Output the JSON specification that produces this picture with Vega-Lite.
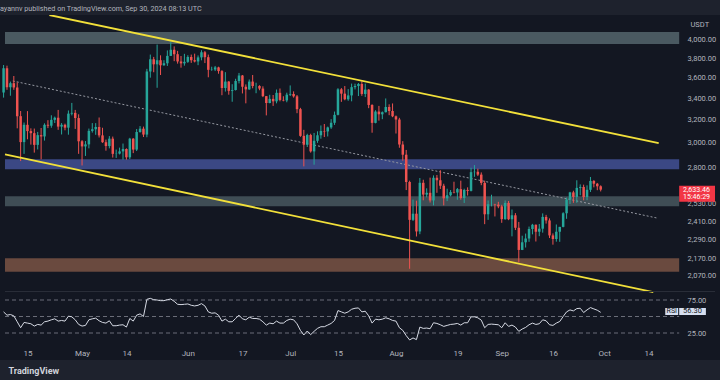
{
"$schema":"https://vega.github.io/schema/vega-lite/v6.json",
"width":720,"height":345,
"autosize":{"type":"none"},
"padding":{"top":15,"left":0,"right":0,"bottom":20},
"background":"#1e222d",
"config":{"view":{"fill":"#131722","stroke":null},"font":"Roboto"},
"title":{"text":"ayannv published on TradingView.com, Sep 30, 2024 08:13 UTC","anchor":"start","frame":"group","fontSize":7.2,"fontWeight":"normal","color":"#b2b5be","offset":3,"font":"Roboto"},
"datasets":{
"k":[
{"d":"2024-04-08","o":3454,"h":3730,"l":3405,"c":3695,"r":57},
{"d":"2024-04-09","o":3695,"h":3723,"l":3480,"c":3505,"r":52},
{"d":"2024-04-10","o":3505,"h":3561,"l":3423,"c":3545,"r":53},
{"d":"2024-04-11","o":3545,"h":3617,"l":3480,"c":3503,"r":51},
{"d":"2024-04-12","o":3503,"h":3553,"l":3125,"c":3233,"r":42},
{"d":"2024-04-13","o":3233,"h":3280,"l":2852,"c":3007,"r":33},
{"d":"2024-04-14","o":3007,"h":3176,"l":2910,"c":3156,"r":41},
{"d":"2024-04-15","o":3156,"h":3279,"l":3031,"c":3101,"r":40},
{"d":"2024-04-16","o":3101,"h":3125,"l":2986,"c":3083,"r":39},
{"d":"2024-04-17","o":3083,"h":3123,"l":2920,"c":2984,"r":35.5},
{"d":"2024-04-18","o":2984,"h":3094,"l":2946,"c":3066,"r":38},
{"d":"2024-04-19","o":3066,"h":3128,"l":2866,"c":3055,"r":37},
{"d":"2024-04-20","o":3055,"h":3169,"l":3020,"c":3156,"r":42},
{"d":"2024-04-21","o":3156,"h":3197,"l":3127,"c":3148,"r":43},
{"d":"2024-04-22","o":3148,"h":3241,"l":3130,"c":3200,"r":45},
{"d":"2024-04-23","o":3200,"h":3229,"l":3172,"c":3219,"r":46.5},
{"d":"2024-04-24","o":3219,"h":3290,"l":3112,"c":3140,"r":43},
{"d":"2024-04-25","o":3140,"h":3171,"l":3072,"c":3156,"r":44},
{"d":"2024-04-26","o":3156,"h":3166,"l":3108,"c":3131,"r":43},
{"d":"2024-04-27","o":3131,"h":3285,"l":3070,"c":3256,"r":50.5},
{"d":"2024-04-28","o":3256,"h":3355,"l":3240,"c":3263,"r":49.5},
{"d":"2024-04-29","o":3263,"h":3290,"l":3120,"c":3216,"r":45},
{"d":"2024-04-30","o":3216,"h":3250,"l":2910,"c":3014,"r":38},
{"d":"2024-05-01","o":3014,"h":3024,"l":2817,"c":2971,"r":35.5},
{"d":"2024-05-02","o":2971,"h":3016,"l":2893,"c":2988,"r":36.5},
{"d":"2024-05-03","o":2988,"h":3123,"l":2955,"c":3103,"r":45},
{"d":"2024-05-04","o":3103,"h":3171,"l":3088,"c":3117,"r":46.5},
{"d":"2024-05-05","o":3117,"h":3171,"l":3069,"c":3137,"r":47.5},
{"d":"2024-05-06","o":3137,"h":3221,"l":3046,"c":3064,"r":43.5},
{"d":"2024-05-07","o":3064,"h":3130,"l":3001,"c":3006,"r":41},
{"d":"2024-05-08","o":3006,"h":3028,"l":2936,"c":2974,"r":40},
{"d":"2024-05-09","o":2974,"h":3058,"l":2955,"c":3036,"r":43.5},
{"d":"2024-05-10","o":3036,"h":3054,"l":2880,"c":2910,"r":36},
{"d":"2024-05-11","o":2910,"h":2945,"l":2877,"c":2912,"r":36},
{"d":"2024-05-12","o":2912,"h":2961,"l":2905,"c":2930,"r":37},
{"d":"2024-05-13","o":2930,"h":2995,"l":2863,"c":2950,"r":37.5},
{"d":"2024-05-14","o":2950,"h":2955,"l":2863,"c":2882,"r":34},
{"d":"2024-05-15","o":2882,"h":3043,"l":2868,"c":3036,"r":47},
{"d":"2024-05-16","o":3036,"h":3041,"l":2916,"c":2945,"r":43},
{"d":"2024-05-17","o":2945,"h":3119,"l":2933,"c":3093,"r":52},
{"d":"2024-05-18","o":3093,"h":3145,"l":3087,"c":3122,"r":54},
{"d":"2024-05-19","o":3122,"h":3140,"l":3050,"c":3071,"r":50},
{"d":"2024-05-20","o":3071,"h":3690,"l":3048,"c":3663,"r":76},
{"d":"2024-05-21","o":3663,"h":3840,"l":3600,"c":3790,"r":77.5},
{"d":"2024-05-22","o":3790,"h":3815,"l":3655,"c":3737,"r":75.5},
{"d":"2024-05-23","o":3737,"h":3949,"l":3500,"c":3780,"r":75},
{"d":"2024-05-24","o":3780,"h":3832,"l":3627,"c":3727,"r":74},
{"d":"2024-05-25","o":3727,"h":3780,"l":3722,"c":3748,"r":74},
{"d":"2024-05-26","o":3748,"h":3885,"l":3720,"c":3826,"r":75.5},
{"d":"2024-05-27","o":3826,"h":3976,"l":3826,"c":3892,"r":76.5},
{"d":"2024-05-28","o":3892,"h":3929,"l":3770,"c":3844,"r":73},
{"d":"2024-05-29","o":3844,"h":3880,"l":3744,"c":3767,"r":68.5},
{"d":"2024-05-30","o":3767,"h":3825,"l":3702,"c":3747,"r":68},
{"d":"2024-05-31","o":3747,"h":3848,"l":3723,"c":3763,"r":68.5},
{"d":"2024-06-01","o":3763,"h":3833,"l":3752,"c":3814,"r":69},
{"d":"2024-06-02","o":3814,"h":3840,"l":3752,"c":3780,"r":67},
{"d":"2024-06-03","o":3780,"h":3850,"l":3757,"c":3767,"r":66},
{"d":"2024-06-04","o":3767,"h":3831,"l":3728,"c":3810,"r":67},
{"d":"2024-06-05","o":3810,"h":3887,"l":3779,"c":3865,"r":69.5},
{"d":"2024-06-06","o":3865,"h":3878,"l":3750,"c":3812,"r":66},
{"d":"2024-06-07","o":3812,"h":3840,"l":3604,"c":3680,"r":57},
{"d":"2024-06-08","o":3680,"h":3712,"l":3670,"c":3683,"r":55},
{"d":"2024-06-09","o":3683,"h":3720,"l":3667,"c":3705,"r":55.5},
{"d":"2024-06-10","o":3705,"h":3712,"l":3640,"c":3667,"r":52},
{"d":"2024-06-11","o":3667,"h":3677,"l":3428,"c":3498,"r":43},
{"d":"2024-06-12","o":3498,"h":3656,"l":3463,"c":3561,"r":46},
{"d":"2024-06-13","o":3561,"h":3566,"l":3433,"c":3470,"r":42},
{"d":"2024-06-14","o":3470,"h":3535,"l":3366,"c":3478,"r":42},
{"d":"2024-06-15","o":3478,"h":3589,"l":3473,"c":3567,"r":47},
{"d":"2024-06-16","o":3567,"h":3648,"l":3543,"c":3622,"r":52},
{"d":"2024-06-17","o":3622,"h":3627,"l":3445,"c":3510,"r":46.5},
{"d":"2024-06-18","o":3510,"h":3533,"l":3351,"c":3484,"r":45},
{"d":"2024-06-19","o":3484,"h":3582,"l":3480,"c":3561,"r":49},
{"d":"2024-06-20","o":3561,"h":3627,"l":3495,"c":3517,"r":47},
{"d":"2024-06-21","o":3517,"h":3550,"l":3447,"c":3518,"r":47},
{"d":"2024-06-22","o":3518,"h":3525,"l":3476,"c":3492,"r":46},
{"d":"2024-06-23","o":3492,"h":3514,"l":3410,"c":3419,"r":42},
{"d":"2024-06-24","o":3419,"h":3420,"l":3240,"c":3354,"r":37},
{"d":"2024-06-25","o":3354,"h":3432,"l":3351,"c":3393,"r":40},
{"d":"2024-06-26","o":3393,"h":3430,"l":3327,"c":3370,"r":39},
{"d":"2024-06-27","o":3370,"h":3483,"l":3351,"c":3451,"r":43},
{"d":"2024-06-28","o":3451,"h":3493,"l":3370,"c":3383,"r":40},
{"d":"2024-06-29","o":3383,"h":3418,"l":3370,"c":3378,"r":40},
{"d":"2024-06-30","o":3378,"h":3452,"l":3361,"c":3433,"r":44},
{"d":"2024-07-01","o":3433,"h":3523,"l":3420,"c":3440,"r":46},
{"d":"2024-07-02","o":3440,"h":3465,"l":3405,"c":3417,"r":45},
{"d":"2024-07-03","o":3417,"h":3430,"l":3260,"c":3297,"r":39},
{"d":"2024-07-04","o":3297,"h":3309,"l":3052,"c":3060,"r":29},
{"d":"2024-07-05","o":3060,"h":3112,"l":2810,"c":2985,"r":22},
{"d":"2024-07-06","o":2985,"h":3078,"l":2966,"c":3067,"r":28},
{"d":"2024-07-07","o":3067,"h":3078,"l":2920,"c":2930,"r":22.5},
{"d":"2024-07-08","o":2930,"h":3085,"l":2823,"c":3018,"r":27.5},
{"d":"2024-07-09","o":3018,"h":3099,"l":3001,"c":3065,"r":32},
{"d":"2024-07-10","o":3065,"h":3150,"l":3036,"c":3102,"r":34.5},
{"d":"2024-07-11","o":3102,"h":3163,"l":3050,"c":3098,"r":34.5},
{"d":"2024-07-12","o":3098,"h":3140,"l":3055,"c":3133,"r":37},
{"d":"2024-07-13","o":3133,"h":3206,"l":3120,"c":3174,"r":39.5},
{"d":"2024-07-14","o":3174,"h":3275,"l":3155,"c":3245,"r":44},
{"d":"2024-07-15","o":3245,"h":3496,"l":3240,"c":3485,"r":59},
{"d":"2024-07-16","o":3485,"h":3497,"l":3365,"c":3443,"r":57},
{"d":"2024-07-17","o":3443,"h":3517,"l":3380,"c":3389,"r":55},
{"d":"2024-07-18","o":3389,"h":3487,"l":3375,"c":3426,"r":57},
{"d":"2024-07-19","o":3426,"h":3541,"l":3370,"c":3506,"r":61},
{"d":"2024-07-20","o":3506,"h":3540,"l":3484,"c":3517,"r":62.5},
{"d":"2024-07-21","o":3517,"h":3547,"l":3420,"c":3537,"r":63},
{"d":"2024-07-22","o":3537,"h":3563,"l":3422,"c":3440,"r":57},
{"d":"2024-07-23","o":3440,"h":3541,"l":3410,"c":3482,"r":58},
{"d":"2024-07-24","o":3482,"h":3487,"l":3306,"c":3336,"r":51},
{"d":"2024-07-25","o":3336,"h":3342,"l":3087,"c":3173,"r":40},
{"d":"2024-07-26","o":3173,"h":3287,"l":3169,"c":3275,"r":46},
{"d":"2024-07-27","o":3275,"h":3327,"l":3193,"c":3250,"r":45},
{"d":"2024-07-28","o":3250,"h":3276,"l":3206,"c":3269,"r":46},
{"d":"2024-07-29","o":3269,"h":3397,"l":3267,"c":3317,"r":48},
{"d":"2024-07-30","o":3317,"h":3342,"l":3242,"c":3280,"r":46.5},
{"d":"2024-07-31","o":3280,"h":3350,"l":3224,"c":3232,"r":44},
{"d":"2024-08-01","o":3232,"h":3239,"l":3080,"c":3203,"r":43},
{"d":"2024-08-02","o":3203,"h":3218,"l":2960,"c":2987,"r":33},
{"d":"2024-08-03","o":2987,"h":3015,"l":2855,"c":2903,"r":29},
{"d":"2024-08-04","o":2903,"h":2942,"l":2630,"c":2690,"r":21},
{"d":"2024-08-05","o":2690,"h":2700,"l":2111,"c":2420,"r":14.5},
{"d":"2024-08-06","o":2420,"h":2561,"l":2412,"c":2462,"r":17.5},
{"d":"2024-08-07","o":2462,"h":2553,"l":2310,"c":2343,"r":15},
{"d":"2024-08-08","o":2343,"h":2720,"l":2325,"c":2684,"r":34},
{"d":"2024-08-09","o":2684,"h":2707,"l":2556,"c":2597,"r":32},
{"d":"2024-08-10","o":2597,"h":2643,"l":2577,"c":2610,"r":32.5},
{"d":"2024-08-11","o":2610,"h":2723,"l":2540,"c":2555,"r":31.5},
{"d":"2024-08-12","o":2555,"h":2740,"l":2520,"c":2722,"r":40.5},
{"d":"2024-08-13","o":2722,"h":2743,"l":2610,"c":2703,"r":39.5},
{"d":"2024-08-14","o":2703,"h":2780,"l":2638,"c":2662,"r":37.5},
{"d":"2024-08-15","o":2662,"h":2677,"l":2520,"c":2570,"r":35},
{"d":"2024-08-16","o":2570,"h":2640,"l":2550,"c":2592,"r":36.5},
{"d":"2024-08-17","o":2592,"h":2630,"l":2584,"c":2615,"r":38},
{"d":"2024-08-18","o":2615,"h":2692,"l":2606,"c":2612,"r":38.5},
{"d":"2024-08-19","o":2612,"h":2645,"l":2560,"c":2637,"r":39.5},
{"d":"2024-08-20","o":2637,"h":2700,"l":2560,"c":2572,"r":37},
{"d":"2024-08-21","o":2572,"h":2640,"l":2537,"c":2631,"r":40.5},
{"d":"2024-08-22","o":2631,"h":2650,"l":2590,"c":2624,"r":40.5},
{"d":"2024-08-23","o":2624,"h":2799,"l":2620,"c":2765,"r":49.5},
{"d":"2024-08-24","o":2765,"h":2820,"l":2729,"c":2768,"r":49.5},
{"d":"2024-08-25","o":2768,"h":2792,"l":2735,"c":2746,"r":48},
{"d":"2024-08-26","o":2746,"h":2763,"l":2666,"c":2683,"r":44.5},
{"d":"2024-08-27","o":2683,"h":2700,"l":2391,"c":2458,"r":33},
{"d":"2024-08-28","o":2458,"h":2555,"l":2420,"c":2528,"r":38},
{"d":"2024-08-29","o":2528,"h":2596,"l":2513,"c":2528,"r":38.5},
{"d":"2024-08-30","o":2528,"h":2531,"l":2443,"c":2525,"r":38},
{"d":"2024-08-31","o":2525,"h":2545,"l":2500,"c":2513,"r":37.5},
{"d":"2024-09-01","o":2513,"h":2524,"l":2400,"c":2425,"r":33},
{"d":"2024-09-02","o":2425,"h":2555,"l":2420,"c":2537,"r":40.5},
{"d":"2024-09-03","o":2537,"h":2551,"l":2418,"c":2424,"r":35},
{"d":"2024-09-04","o":2424,"h":2491,"l":2311,"c":2451,"r":37},
{"d":"2024-09-05","o":2451,"h":2466,"l":2352,"c":2367,"r":34},
{"d":"2024-09-06","o":2367,"h":2406,"l":2150,"c":2225,"r":27.5},
{"d":"2024-09-07","o":2225,"h":2315,"l":2224,"c":2273,"r":31},
{"d":"2024-09-08","o":2273,"h":2329,"l":2240,"c":2297,"r":33.5},
{"d":"2024-09-09","o":2297,"h":2375,"l":2276,"c":2359,"r":37.5},
{"d":"2024-09-10","o":2359,"h":2393,"l":2324,"c":2387,"r":40},
{"d":"2024-09-11","o":2387,"h":2389,"l":2278,"c":2341,"r":38},
{"d":"2024-09-12","o":2341,"h":2392,"l":2312,"c":2361,"r":39},
{"d":"2024-09-13","o":2361,"h":2464,"l":2335,"c":2440,"r":45},
{"d":"2024-09-14","o":2440,"h":2454,"l":2395,"c":2416,"r":43.5},
{"d":"2024-09-15","o":2416,"h":2430,"l":2300,"c":2317,"r":37.5},
{"d":"2024-09-16","o":2317,"h":2330,"l":2258,"c":2294,"r":36.5},
{"d":"2024-09-17","o":2294,"h":2389,"l":2277,"c":2341,"r":40},
{"d":"2024-09-18","o":2341,"h":2373,"l":2276,"c":2373,"r":42.5},
{"d":"2024-09-19","o":2373,"h":2472,"l":2370,"c":2465,"r":50},
{"d":"2024-09-20","o":2465,"h":2575,"l":2427,"c":2561,"r":57},
{"d":"2024-09-21","o":2561,"h":2617,"l":2530,"c":2613,"r":60},
{"d":"2024-09-22","o":2613,"h":2625,"l":2538,"c":2580,"r":58.5},
{"d":"2024-09-23","o":2580,"h":2703,"l":2538,"c":2646,"r":62},
{"d":"2024-09-24","o":2646,"h":2672,"l":2592,"c":2653,"r":62.5},
{"d":"2024-09-25","o":2653,"h":2670,"l":2556,"c":2579,"r":56},
{"d":"2024-09-26","o":2579,"h":2665,"l":2557,"c":2632,"r":60},
{"d":"2024-09-27","o":2632,"h":2728,"l":2616,"c":2698,"r":63.5},
{"d":"2024-09-28","o":2698,"h":2704,"l":2650,"c":2677,"r":61.5},
{"d":"2024-09-29","o":2677,"h":2683,"l":2629,"c":2658,"r":59.5},
{"d":"2024-09-30","o":2658,"h":2665,"l":2620,"c":2633,"r":56.3}
],
"lines":[
{"g":"upper","t":"2024-04-21T10:00:00Z","p":4289},
{"g":"upper","t":"2024-10-17T00:00:00Z","p":2998},
{"g":"lower","t":"2024-04-08T10:00:00Z","p":2906},
{"g":"lower","t":"2024-10-15T10:00:00Z","p":1977}
],
"mid":[
{"t":"2024-04-10T17:00:00Z","p":3567},
{"t":"2024-10-16T19:00:00Z","p":2431}
],
"bands":[
{"k":"a","lo":3955,"hi":4090},
{"k":"b","lo":2787,"hi":2866},
{"k":"c","lo":2514,"hi":2585},
{"k":"d","lo":2094,"hi":2174}
],
"lv":[{"v":25},{"v":50},{"v":75}],
"one":[{}]
},
"layer":[
{"layer":[
{"data":{"name":"bands"},"mark":{"type":"rect","clip":true},
 "encoding":{
  "x":{"datum":{"year":2024,"month":4,"date":8,"hours":10,"utc":true},"type":"temporal","scale":{"type":"utc","domain":[{"year":2024,"month":4,"date":8,"hours":10,"utc":true},{"year":2024,"month":11,"date":2,"hours":12,"utc":true}]}},
  "x2":{"datum":{"year":2024,"month":10,"date":23,"utc":true}},
  "y":{"field":"lo","type":"quantitative","scale":{"type":"log","domain":[1636,4289],"nice":false},
   "axis":{"orient":"right","offset":-37,"values":[4000,3800,3600,3400,3200,3000,2800,2530,2410,2290,2170,2070],"format":",.2f","domain":false,"ticks":false,"grid":false,"labelPadding":4,"labelFontSize":7.5,"labelColor":"#b2b5be","labelOverlap":false,"labelFlush":false,"title":"USDT","titleAngle":0,"titleX":7,"titleY":9,"titleAlign":"left","titleBaseline":"middle","titleFontSize":7.5,"titleFontWeight":"normal","titleColor":"#b2b5be"}},
  "y2":{"field":"hi"},
  "color":{"field":"k","type":"nominal","scale":{"domain":["a","b","c","d"],"range":["#4a5961","#3b4884","#3f4d55","#6a4a3f"]},"legend":null}
 }},
{"data":{"name":"mid"},"mark":{"type":"line","clip":true,"color":"#9598a1","strokeWidth":1,"strokeDash":[2,2]},
 "encoding":{
  "x":{"field":"t","type":"temporal","scale":{"type":"utc","domain":[{"year":2024,"month":4,"date":8,"hours":10,"utc":true},{"year":2024,"month":11,"date":2,"hours":12,"utc":true}]}},
  "y":{"field":"p","type":"quantitative","scale":{"type":"log","domain":[1636,4289],"nice":false}}
 }},
{"data":{"name":"k"},"mark":{"type":"rule","clip":true,"strokeWidth":1},
 "encoding":{
  "x":{"field":"d","type":"temporal","scale":{"type":"utc","domain":[{"year":2024,"month":4,"date":8,"hours":10,"utc":true},{"year":2024,"month":11,"date":2,"hours":12,"utc":true}]}},
  "y":{"field":"l","type":"quantitative","scale":{"type":"log","domain":[1636,4289],"nice":false}},
  "y2":{"field":"h"},
  "color":{"condition":{"test":"datum.c >= datum.o","value":"#26a69a"},"value":"#ef5350"}
 }},
{"data":{"name":"k"},"mark":{"type":"bar","clip":true,"size":2.5},
 "encoding":{
  "x":{"field":"d","type":"temporal","scale":{"type":"utc","domain":[{"year":2024,"month":4,"date":8,"hours":10,"utc":true},{"year":2024,"month":11,"date":2,"hours":12,"utc":true}]},
   "axis":{"orient":"bottom","offset":-13,"values":[{"year":2024,"month":4,"date":15,"utc":true},{"year":2024,"month":5,"date":1,"utc":true},{"year":2024,"month":5,"date":14,"utc":true},{"year":2024,"month":6,"date":1,"utc":true},{"year":2024,"month":6,"date":17,"utc":true},{"year":2024,"month":7,"date":1,"utc":true},{"year":2024,"month":7,"date":15,"utc":true},{"year":2024,"month":8,"date":1,"utc":true},{"year":2024,"month":8,"date":19,"utc":true},{"year":2024,"month":9,"date":1,"utc":true},{"year":2024,"month":9,"date":16,"utc":true},{"year":2024,"month":10,"date":1,"utc":true},{"year":2024,"month":10,"date":14,"utc":true}],
    "labelExpr":"utcdate(datum.value) == 1 ? utcFormat(datum.value, '%b') : utcFormat(datum.value, '%d')",
    "domain":false,"ticks":false,"grid":false,"labelFontSize":8,"labelColor":"#b2b5be","labelPadding":2,"labelOverlap":false,"labelFlush":false,
    "title":"TradingView","titleX":8,"titleY":23,"titleAlign":"left","titleAnchor":"start","titleBaseline":"middle","titleFontSize":9,"titleFontWeight":"bold","titleColor":"#d1d4dc"}},
  "y":{"field":"o","type":"quantitative","scale":{"type":"log","domain":[1636,4289],"nice":false}},
  "y2":{"field":"c"},
  "color":{"condition":{"test":"datum.c >= datum.o","value":"#26a69a"},"value":"#ef5350"}
 }},
{"data":{"name":"lines"},"mark":{"type":"line","clip":true,"color":"#f2e03a","strokeWidth":1.8},
 "encoding":{
  "x":{"field":"t","type":"temporal","scale":{"type":"utc","domain":[{"year":2024,"month":4,"date":8,"hours":10,"utc":true},{"year":2024,"month":11,"date":2,"hours":12,"utc":true}]}},
  "y":{"field":"p","type":"quantitative","scale":{"type":"log","domain":[1636,4289],"nice":false}},
  "detail":{"field":"g","type":"nominal"}
 }},
{"data":{"name":"one"},"mark":{"type":"rect","clip":true,"color":"#f23645"},
 "encoding":{
  "x":{"datum":{"year":2024,"month":10,"date":23,"utc":true},"type":"temporal","scale":{"type":"utc","domain":[{"year":2024,"month":4,"date":8,"hours":10,"utc":true},{"year":2024,"month":11,"date":2,"hours":12,"utc":true}]}},
  "x2":{"datum":{"year":2024,"month":11,"date":2,"hours":12,"utc":true}},
  "y":{"datum":2545,"type":"quantitative","scale":{"type":"log","domain":[1636,4289],"nice":false}},
  "y2":{"datum":2662}
 }},
{"data":{"name":"one"},"mark":{"type":"text","clip":true,"align":"left","baseline":"middle","fontSize":7,"color":"#ffffff"},
 "encoding":{
  "x":{"datum":{"year":2024,"month":10,"date":24,"hours":3,"utc":true},"type":"temporal","scale":{"type":"utc","domain":[{"year":2024,"month":4,"date":8,"hours":10,"utc":true},{"year":2024,"month":11,"date":2,"hours":12,"utc":true}]}},
  "y":{"datum":2632,"type":"quantitative","scale":{"type":"log","domain":[1636,4289],"nice":false}},
  "text":{"value":"2,633.46"}
 }},
{"data":{"name":"one"},"mark":{"type":"text","clip":true,"align":"left","baseline":"middle","fontSize":7,"color":"#ffffff"},
 "encoding":{
  "x":{"datum":{"year":2024,"month":10,"date":24,"hours":3,"utc":true},"type":"temporal","scale":{"type":"utc","domain":[{"year":2024,"month":4,"date":8,"hours":10,"utc":true},{"year":2024,"month":11,"date":2,"hours":12,"utc":true}]}},
  "y":{"datum":2579,"type":"quantitative","scale":{"type":"log","domain":[1636,4289],"nice":false}},
  "text":{"value":"15:46:29"}
 }}
]},
{"layer":[
{"data":{"name":"one"},"mark":{"type":"rule","clip":true,"color":"#2a2e39","strokeWidth":1},
 "encoding":{
  "x":{"datum":{"year":2024,"month":4,"date":8,"hours":10,"utc":true},"type":"temporal","scale":{"type":"utc","domain":[{"year":2024,"month":4,"date":8,"hours":10,"utc":true},{"year":2024,"month":11,"date":2,"hours":12,"utc":true}]}},
  "x2":{"datum":{"year":2024,"month":11,"date":2,"hours":12,"utc":true}},
  "y":{"datum":87.9,"type":"quantitative","scale":{"type":"linear","domain":[-15.9,506.8],"nice":false,"zero":false}}
 }},
{"data":{"name":"lv"},"mark":{"type":"rule","clip":true,"color":"#6a6d78","strokeWidth":1,"strokeDash":[4,3]},
 "encoding":{
  "x":{"datum":{"year":2024,"month":4,"date":8,"hours":10,"utc":true},"type":"temporal","scale":{"type":"utc","domain":[{"year":2024,"month":4,"date":8,"hours":10,"utc":true},{"year":2024,"month":11,"date":2,"hours":12,"utc":true}]}},
  "x2":{"datum":{"year":2024,"month":10,"date":23,"utc":true}},
  "y":{"field":"v","type":"quantitative","scale":{"type":"linear","domain":[-15.9,506.8],"nice":false,"zero":false}}
 }},
{"data":{"name":"k"},"mark":{"type":"line","clip":true,"color":"#d6dae4","strokeWidth":1},
 "encoding":{
  "x":{"field":"d","type":"temporal","scale":{"type":"utc","domain":[{"year":2024,"month":4,"date":8,"hours":10,"utc":true},{"year":2024,"month":11,"date":2,"hours":12,"utc":true}]}},
  "y":{"field":"r","type":"quantitative","scale":{"type":"linear","domain":[-15.9,506.8],"nice":false,"zero":false},
   "axis":{"orient":"right","offset":-37,"values":[25,75],"format":".2f","domain":false,"ticks":false,"grid":false,"labelPadding":4,"labelFontSize":7.5,"labelColor":"#b2b5be","labelOverlap":false,"labelFlush":false,"title":null}}
 }},
{"data":{"name":"one"},"mark":{"type":"rect","clip":true,"color":"#d6dff0"},
 "encoding":{
  "x":{"datum":{"year":2024,"month":10,"date":18,"hours":22,"utc":true},"type":"temporal","scale":{"type":"utc","domain":[{"year":2024,"month":4,"date":8,"hours":10,"utc":true},{"year":2024,"month":11,"date":2,"hours":12,"utc":true}]}},
  "x2":{"datum":{"year":2024,"month":10,"date":22,"hours":17,"utc":true}},
  "y":{"datum":52.3,"type":"quantitative","scale":{"type":"linear","domain":[-15.9,506.8],"nice":false,"zero":false}},
  "y2":{"datum":62.9}
 }},
{"data":{"name":"one"},"mark":{"type":"rect","clip":true,"color":"#d6dff0"},
 "encoding":{
  "x":{"datum":{"year":2024,"month":10,"date":23,"hours":0,"utc":true},"type":"temporal","scale":{"type":"utc","domain":[{"year":2024,"month":4,"date":8,"hours":10,"utc":true},{"year":2024,"month":11,"date":2,"hours":12,"utc":true}]}},
  "x2":{"datum":{"year":2024,"month":10,"date":30,"hours":20,"utc":true}},
  "y":{"datum":52.3,"type":"quantitative","scale":{"type":"linear","domain":[-15.9,506.8],"nice":false,"zero":false}},
  "y2":{"datum":62.9}
 }},
{"data":{"name":"one"},"mark":{"type":"text","clip":true,"align":"center","baseline":"middle","fontSize":7,"color":"#131722"},
 "encoding":{
  "x":{"datum":{"year":2024,"month":10,"date":20,"hours":20,"utc":true},"type":"temporal","scale":{"type":"utc","domain":[{"year":2024,"month":4,"date":8,"hours":10,"utc":true},{"year":2024,"month":11,"date":2,"hours":12,"utc":true}]}},
  "y":{"datum":57.6,"type":"quantitative","scale":{"type":"linear","domain":[-15.9,506.8],"nice":false,"zero":false}},
  "text":{"value":"RSI"}
 }},
{"data":{"name":"one"},"mark":{"type":"text","clip":true,"align":"center","baseline":"middle","fontSize":7.5,"color":"#131722"},
 "encoding":{
  "x":{"datum":{"year":2024,"month":10,"date":26,"hours":22,"utc":true},"type":"temporal","scale":{"type":"utc","domain":[{"year":2024,"month":4,"date":8,"hours":10,"utc":true},{"year":2024,"month":11,"date":2,"hours":12,"utc":true}]}},
  "y":{"datum":57.6,"type":"quantitative","scale":{"type":"linear","domain":[-15.9,506.8],"nice":false,"zero":false}},
  "text":{"value":"56.30"}
 }}
]}
],
"resolve":{"scale":{"y":"independent"},"axis":{"y":"independent"}}
}
